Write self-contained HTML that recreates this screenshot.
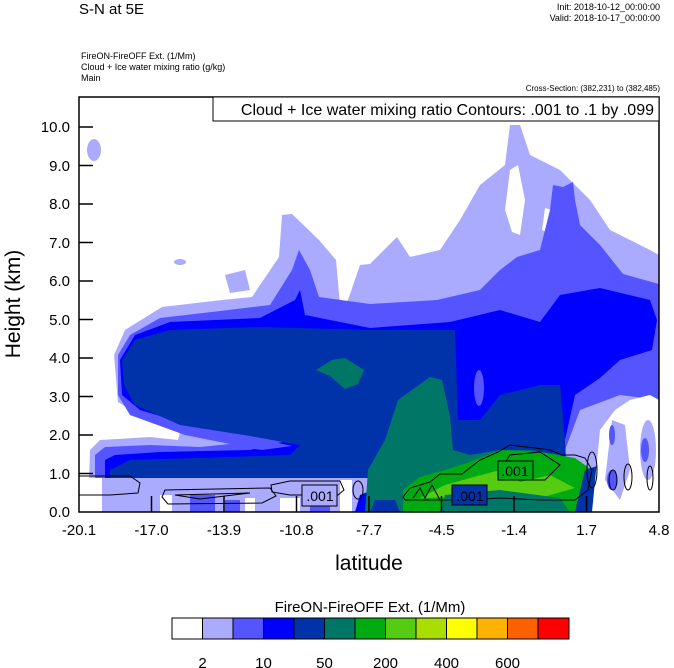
<!DOCTYPE html>
<html><head><style>
body{margin:0;background:#fff;}
svg{display:block;font-family:"Liberation Sans",Arial,sans-serif;}
</style></head><body>
<svg width="674" height="668" viewBox="0 0 674 668" xmlns="http://www.w3.org/2000/svg">
<rect width="674" height="668" fill="#fff"/>
<text x="79" y="14" font-size="15">S-N at 5E</text>
<text x="660" y="10" font-size="9" text-anchor="end">Init: 2018-10-12_00:00:00</text>
<text x="660" y="21" font-size="9" text-anchor="end">Valid: 2018-10-17_00:00:00</text>
<text x="81" y="59" font-size="9">FireON-FireOFF Ext.   (1/Mm)</text>
<text x="81" y="70" font-size="9">Cloud + Ice water mixing ratio   (g/kg)</text>
<text x="81" y="81" font-size="9">Main</text>
<text x="660" y="91" font-size="8" text-anchor="end">Cross-Section: (382,231) to (382,485)</text>
<clipPath id="c"><rect x="79" y="97" width="580" height="415"/></clipPath>
<g clip-path="url(#c)">
<path fill="#aaaaff" d="M88,512 L90,450 L100,440 L150,437 L178,440 L180,432 L150,422 L118,402 L114,355 L125,330 L162,307 L222,300 L252,297 L279,257 L282,215 L292,214 L319,240 L336,260 L340,305 L348,300 L360,265 L370,264 L397,237 L410,257 L440,250 L460,220 L480,185 L505,165 L510,125 L520,125 L530,155 L560,170 L590,200 L610,230 L650,250 L659,255 L659,512 Z"/>
<path fill="#fff" d="M510,170 L518,165 L525,200 L520,235 L512,232 L505,210Z"/>
<path fill="#fff" d="M545,208 L552,210 L560,228 L555,236 L542,230Z"/>
<ellipse cx="94" cy="150" rx="7" ry="11" fill="#aaaaff"/>
<ellipse cx="180" cy="262" rx="6" ry="3" fill="#aaaaff"/>
<path fill="#aaaaff" d="M225,275 L245,270 L250,290 L230,293Z"/>
<path fill="#5555ff" d="M95,512 L95,455 L105,447 L150,445 L200,447 L230,444 L185,435 L130,415 L118,395 L118,355 L130,335 L160,318 L220,311 L270,305 L292,270 L299,250 L310,270 L319,297 L370,304 L437,300 L480,290 L500,270 L517,257 L540,250 L550,210 L553,185 L563,187 L573,182 L575,200 L580,225 L600,245 L623,274 L659,284 L659,400 L620,395 L580,410 L565,450 L560,512 Z"/>
<path fill="#0000ff" d="M105,512 L105,460 L115,455 L160,452 L250,450 L290,440 L200,428 L140,410 L122,395 L120,360 L135,335 L170,322 L260,318 L295,300 L300,290 L305,315 L370,328 L450,322 L500,310 L540,322 L560,295 L600,288 L650,300 L657,320 L652,350 L620,360 L600,378 L575,395 L565,440 L568,512 Z"/>
<path fill="#0033aa" d="M110,512 L110,470 L130,460 L200,458 L290,455 L300,445 L250,436 L180,425 L135,405 L124,385 L122,360 L135,340 L170,330 L260,327 L370,330 L455,330 L458,420 L480,420 L500,395 L540,385 L560,385 L565,440 L562,512 Z"/>
<path fill="#5555ff" d="M232,446 L260,439 L292,446 L262,450Z"/>
<ellipse cx="479" cy="388" rx="5" ry="18" fill="#5555ff"/>
<path fill="#aaaaff" d="M80,478 L370,478 L370,512 L80,512Z"/>
<g fill="#fff"><rect x="80" y="478" width="22" height="34"/><rect x="160" y="495" width="12" height="17"/><rect x="245" y="498" width="10" height="14"/><rect x="280" y="498" width="20" height="14"/><rect x="340" y="480" width="12" height="32"/></g>
<g fill="#5555ff"><rect x="190" y="495" width="25" height="17"/><rect x="225" y="500" width="15" height="12"/><rect x="310" y="500" width="20" height="12"/></g>
<path fill="#0000ff" d="M355,512 L360,495 L372,490 L375,512Z"/>
<path fill="#007766" d="M316,370 L332,360 L345,358 L364,370 L358,384 L345,389 L330,376Z"/>
<path fill="#007766" d="M365,512 L368,470 L385,440 L398,400 L430,377 L442,380 L450,417 L453,450 L470,455 L500,450 L530,450 L560,455 L565,512Z"/>
<path fill="#00aa11" d="M403,512 L403,490 L420,477 L445,470 L470,462 L500,450 L540,452 L575,458 L592,470 L590,512Z"/>
<path fill="#55cc11" d="M420,498 L445,485 L470,478 L500,470 L520,482 L550,475 L575,488 L540,498 L480,497Z"/>
<path fill="#007766" d="M440,512 L445,495 L500,490 L560,498 L570,512Z"/>
<path fill="#0033aa" d="M370,512 L375,500 L395,500 L400,512Z"/>
<path fill="#0033aa" d="M575,512 L585,470 L600,465 L605,512Z"/>
<path fill="#fff" d="M592,512 L600,430 L615,410 L630,400 L650,395 L659,400 L659,512 Z"/>
<path fill="#aaaaff" d="M605,480 L612,420 L625,425 L630,470 L620,500Z"/>
<ellipse cx="648" cy="450" rx="8" ry="30" fill="#aaaaff"/>
<ellipse cx="645" cy="450" rx="4" ry="12" fill="#5555ff"/>
<ellipse cx="612" cy="435" rx="3" ry="10" fill="#5555ff"/>
<ellipse cx="612" cy="480" rx="5" ry="10" fill="#5555ff"/>
<g fill="none" stroke="#000" stroke-width="1">
<path d="M79,476 L130,476 L140,483 L138,493 L110,495 L79,495"/>
<path d="M165,490 L270,488 L276,496 L262,503 L168,504 L162,497Z"/>
<path d="M175,495 L250,493 L200,499Z"/>
<path d="M271,485 L290,481 L340,481 L344,490 L338,495 L290,495 L272,492Z"/>
<ellipse cx="358" cy="490" rx="5" ry="9"/>
<path d="M403,497 L410,488 L430,482 L440,474 L462,474 L480,460 L498,452 L510,445 L535,448 L550,450 L562,455 L575,455 L585,458 L592,470 L588,490 L575,500 L540,500 L500,498 L470,500 L430,500 L405,500Z"/>
<path d="M500,470 L510,455 L540,452 L560,465 L545,480 L510,480Z"/>
<path d="M413,498 L420,488 L425,498 L432,485 L440,500"/>
<ellipse cx="592" cy="470" rx="5" ry="18"/>
<ellipse cx="613" cy="480" rx="4" ry="10"/>
<ellipse cx="628" cy="477" rx="4" ry="13"/>
<ellipse cx="650" cy="478" rx="3" ry="12"/>
</g>
<g font-size="14" text-anchor="middle">
<rect x="302" y="485" width="35" height="21" fill="#aaaaff" stroke="#000"/><text x="320" y="501">.001</text>
<rect x="452" y="485" width="35" height="20" fill="#0033aa" stroke="#000"/><text x="470" y="501">.001</text>
<rect x="498" y="461" width="35" height="19" fill="#00aa11" stroke="#000"/><text x="515" y="476">.001</text>
</g>
</g>
<rect x="79" y="97" width="580" height="415" fill="none" stroke="#000" stroke-width="1.5"/>
<rect x="213" y="97" width="446" height="24" fill="#fff" stroke="#000"/>
<text x="654" y="115" font-size="16" text-anchor="end">Cloud + Ice water mixing ratio Contours: .001 to .1 by .099</text>
<g stroke="#000" stroke-width="1.5">
<line x1="79" y1="127" x2="93" y2="127"/><line x1="79" y1="165.5" x2="93" y2="165.5"/><line x1="79" y1="204" x2="93" y2="204"/><line x1="79" y1="242.5" x2="93" y2="242.5"/><line x1="79" y1="281" x2="93" y2="281"/><line x1="79" y1="319.5" x2="93" y2="319.5"/><line x1="79" y1="358" x2="93" y2="358"/><line x1="79" y1="396.5" x2="93" y2="396.5"/><line x1="79" y1="435" x2="93" y2="435"/><line x1="79" y1="473.5" x2="93" y2="473.5"/>
<line x1="151.5" y1="512" x2="151.5" y2="496"/><line x1="224" y1="512" x2="224" y2="496"/><line x1="296.5" y1="512" x2="296.5" y2="496"/><line x1="369" y1="512" x2="369" y2="496"/><line x1="441.5" y1="512" x2="441.5" y2="496"/><line x1="514" y1="512" x2="514" y2="496"/><line x1="586.5" y1="512" x2="586.5" y2="496"/>
</g>
<g font-size="15" text-anchor="end">
<text x="70" y="132">10.0</text><text x="70" y="171">9.0</text><text x="70" y="209">8.0</text><text x="70" y="248">7.0</text><text x="70" y="286">6.0</text><text x="70" y="325">5.0</text><text x="70" y="363">4.0</text><text x="70" y="402">3.0</text><text x="70" y="440">2.0</text><text x="70" y="479">1.0</text><text x="70" y="517">0.0</text>
</g>
<g font-size="15" text-anchor="middle">
<text x="79" y="535">-20.1</text><text x="151.5" y="535">-17.0</text><text x="224" y="535">-13.9</text><text x="296.5" y="535">-10.8</text><text x="369" y="535">-7.7</text><text x="441.5" y="535">-4.5</text><text x="514" y="535">-1.4</text><text x="586.5" y="535">1.7</text><text x="659" y="535">4.8</text>
</g>
<text x="369" y="570" font-size="21" text-anchor="middle">latitude</text>
<text transform="translate(20,304) rotate(-90)" font-size="21" text-anchor="middle">Height (km)</text>
<text x="370" y="612" font-size="15" text-anchor="middle">FireON-FireOFF Ext.  (1/Mm)</text>
<g stroke="#000" stroke-width="1">
<rect x="172" y="618" width="30.5" height="21" fill="#ffffff"/><rect x="202.5" y="618" width="30.5" height="21" fill="#aaaaff"/><rect x="233" y="618" width="30.5" height="21" fill="#5555ff"/><rect x="263.5" y="618" width="30.5" height="21" fill="#0000ff"/><rect x="294" y="618" width="30.5" height="21" fill="#0033aa"/><rect x="324.5" y="618" width="30.5" height="21" fill="#007766"/><rect x="355" y="618" width="30.5" height="21" fill="#00aa11"/><rect x="385.5" y="618" width="30.5" height="21" fill="#55cc11"/><rect x="416" y="618" width="30.5" height="21" fill="#aadd00"/><rect x="446.5" y="618" width="30.5" height="21" fill="#ffff00"/><rect x="477" y="618" width="30.5" height="21" fill="#ffb300"/><rect x="507.5" y="618" width="30.5" height="21" fill="#ff6000"/><rect x="538" y="618" width="31" height="21" fill="#ff0000"/>
</g>
<g font-size="15" text-anchor="middle">
<text x="202.5" y="668">2</text><text x="263.5" y="668">10</text><text x="324.5" y="668">50</text><text x="385.5" y="668">200</text><text x="446.5" y="668">400</text><text x="507.5" y="668">600</text>
</g>
</svg>
</body></html>
